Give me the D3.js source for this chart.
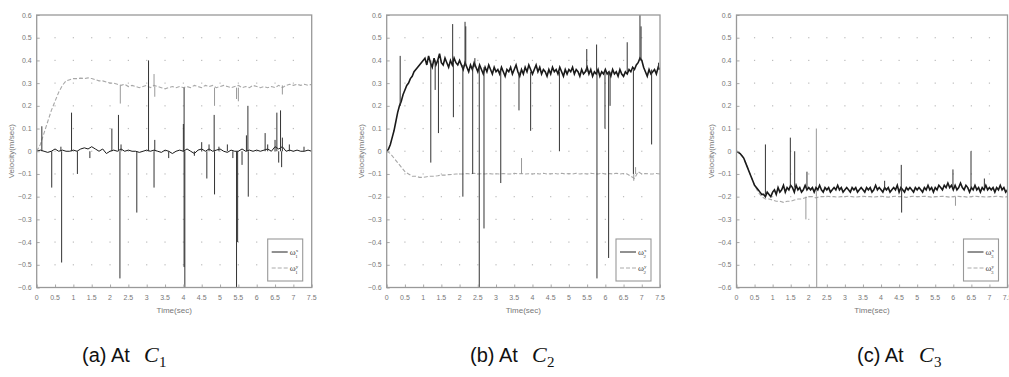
<!DOCTYPE html>
<html>
<head>
<meta charset="utf-8">
<script src="https://cdn.jsdelivr.net/npm/d3@7"></script>
<style>
  html, body { margin: 0; padding: 0; background: #fff; }
  svg { display: block; }
  .tick-label { font-family: "Liberation Sans", Arial, sans-serif; font-size: 7px; fill: #777; }
  .axis-title { font-family: "Liberation Sans", Arial, sans-serif; font-size: 8px; fill: #777; }
  .caption { font-family: "Liberation Sans", Arial, sans-serif; font-size: 20px; fill: #111; }
</style>
</head>
<body>
<div id="chart"></div>
<script>
// sample spacing (seconds) of the recorded traces
const step05 = 0.05;
const step10 = 0.1;

const xTicks = [0, 0.5, 1, 1.5, 2, 2.5, 3, 3.5, 4, 4.5, 5, 5.5, 6, 6.5, 7, 7.5];
const yTicks = [0.6, 0.5, 0.4, 0.3, 0.2, 0.1, 0, -0.1, -0.2, -0.3, -0.4, -0.5, -0.6];
const captionLetters = ['(a) At', '(b) At', '(c) At'];
const captionSubs = ['1', '2', '3'];

// (a) C1 -- black trace sampled every 0.1 s
const aBlack = [0, 0.005, 0, -0.005, 0, 0.01, 0, 0.005, 0, 0, 0.005,
  0, 0.01, 0.015, 0.01, 0.02, 0.01, 0, 0.01, -0.01, 0,
  0.005, 0, 0.01, 0, 0.005, 0, 0, -0.005, 0, 0.005,
  0, 0.005, 0, -0.005, 0.005, 0, -0.01, 0, 0.005, 0,
  0.01, 0, -0.01, 0.005, 0.01, 0, 0.01, 0, 0.005, 0.01,
  0, -0.005, 0.005, 0, 0, 0.01, 0, 0.005, 0, 0.005,
  0, 0.005, 0.01, 0, 0.02, 0.01, 0.02, 0, 0.005, 0,
  0.005, 0, 0, 0.005, 0];
const aGray = [0, 0.03, 0.08, 0.13, 0.18, 0.22, 0.26, 0.29, 0.31, 0.315, 0.32,
  0.32, 0.322, 0.32, 0.323, 0.32, 0.315, 0.31, 0.31, 0.305, 0.3,
  0.3, 0.295, 0.29, 0.295, 0.285, 0.29, 0.285, 0.28, 0.285, 0.29,
  0.28, 0.29, 0.285, 0.28, 0.275, 0.28, 0.285, 0.28, 0.285, 0.28,
  0.285, 0.28, 0.29, 0.285, 0.28, 0.29, 0.285, 0.29, 0.28, 0.285,
  0.29, 0.285, 0.28, 0.285, 0.29, 0.28, 0.285, 0.28, 0.29, 0.285,
  0.28, 0.285, 0.28, 0.285, 0.28, 0.29, 0.28, 0.29, 0.295, 0.29,
  0.295, 0.29, 0.295, 0.29, 0.295];
// spikes: [time, from, to]
const aBlackSpikes = [[0.14, 0, 0.11], [0.41, 0, -0.16], [0.66, 0, 0.02], [0.68, 0, -0.49],
  [0.95, 0, 0.17], [1.11, 0, -0.1], [1.45, 0, -0.03], [2.05, 0, 0.1], [2.23, 0, 0.16],
  [2.27, 0, -0.56], [2.3, 0, 0.03], [2.73, 0, -0.27], [3.05, 0, 0.4], [3.2, 0, -0.16],
  [3.22, 0, 0.05], [3.6, 0, -0.03], [4.0, 0, 0.12], [4.02, 0, 0.28], [4.02, 0, -0.51],
  [4.04, 0, -0.6], [4.3, 0, -0.02], [4.5, 0, 0.04], [4.64, 0, -0.12], [4.7, 0, 0.03],
  [4.84, 0, 0.16], [4.85, 0, -0.19], [4.97, 0, 0.02], [5.2, 0, 0.03], [5.35, 0, -0.03],
  [5.45, 0, -0.6], [5.48, 0, -0.4], [5.6, 0, -0.06], [5.72, 0, 0.07], [5.76, 0, 0.2],
  [5.77, 0, -0.2], [6.23, 0, 0.08], [6.3, 0, 0.03], [6.5, 0, 0.05], [6.55, 0, 0.17],
  [6.6, 0, -0.05], [6.65, 0, 0.18], [6.68, 0, -0.07], [6.7, 0, 0.06], [6.89, 0, 0.03],
  [7.29, 0, 0.02]];
const aGraySpikes = [[2.28, 0.29, 0.21], [3.2, 0.285, 0.34], [3.22, 0.285, 0.24],
  [4.85, 0.28, 0.2], [5.45, 0.28, 0.23], [5.5, 0.28, 0.22], [6.7, 0.29, 0.25]];

// (b) C2 -- black trace sampled every 0.05 s
const bBlack = [0, 0.01, 0.03, 0.06, 0.09, 0.13, 0.17, 0.2, 0.22, 0.25, 0.27,
  0.29, 0.3, 0.32, 0.33, 0.35, 0.36, 0.37, 0.38, 0.39, 0.4,
  0.41, 0.38, 0.42, 0.39, 0.37, 0.41, 0.38, 0.40, 0.43, 0.39,
  0.38, 0.41, 0.39, 0.37, 0.40, 0.38, 0.41, 0.39, 0.38, 0.40,
  0.38, 0.36, 0.39, 0.37, 0.35, 0.38, 0.36, 0.39, 0.37, 0.35,
  0.38, 0.36, 0.34, 0.37, 0.35, 0.38, 0.36, 0.34, 0.37, 0.35,
  0.36, 0.34, 0.37, 0.35, 0.33, 0.36, 0.35, 0.37, 0.34, 0.36,
  0.38, 0.35, 0.33, 0.36, 0.34, 0.37, 0.35, 0.38, 0.36, 0.34,
  0.36, 0.38, 0.35, 0.37, 0.34, 0.36, 0.35, 0.33, 0.36, 0.34,
  0.37, 0.35, 0.36, 0.34, 0.37, 0.35, 0.33, 0.36, 0.34, 0.36,
  0.35, 0.37, 0.34, 0.36, 0.35, 0.33, 0.36, 0.34, 0.35, 0.37,
  0.34, 0.36, 0.33, 0.35, 0.34, 0.36, 0.33, 0.35, 0.34, 0.36,
  0.34, 0.35, 0.33, 0.36, 0.34, 0.35, 0.33, 0.36, 0.34, 0.33,
  0.35, 0.34, 0.36, 0.35, 0.37, 0.36, 0.38, 0.39, 0.41, 0.40,
  0.37, 0.35, 0.33, 0.36, 0.34, 0.35, 0.36, 0.34, 0.37, 0.36];
const bGray = [0, -0.01, -0.03, -0.05, -0.07, -0.09, -0.1, -0.11, -0.11, -0.115, -0.115,
  -0.112, -0.11, -0.11, -0.108, -0.105, -0.105, -0.103, -0.102, -0.1, -0.1,
  -0.1, -0.098, -0.1, -0.097, -0.1, -0.099, -0.1, -0.098, -0.1, -0.099,
  -0.1, -0.098, -0.1, -0.1, -0.097, -0.1, -0.098, -0.1, -0.099, -0.1,
  -0.098, -0.1, -0.097, -0.1, -0.099, -0.098, -0.1, -0.097, -0.1, -0.098,
  -0.1, -0.097, -0.1, -0.098, -0.1, -0.097, -0.099, -0.1, -0.097, -0.1,
  -0.098, -0.1, -0.097, -0.1, -0.098, -0.1, -0.11, -0.12, -0.09, -0.1,
  -0.098, -0.1, -0.1, -0.098, -0.1];
const bBlackSpikes = [[0.37, 0.2, 0.42], [1.21, 0.4, -0.05], [1.33, 0.4, 0.27], [1.42, 0.4, 0.08],
  [1.81, 0.39, 0.56], [1.83, 0.39, 0.15], [2.09, 0.38, -0.2], [2.15, 0.38, 0.57],
  [2.17, 0.38, 0.55], [2.36, 0.37, -0.1], [2.42, 0.37, 0.41], [2.54, 0.37, -0.6],
  [2.67, 0.37, -0.34], [3.13, 0.36, -0.14], [3.63, 0.35, 0.18], [3.95, 0.35, 0.09],
  [4.74, 0.35, 0.0], [5.49, 0.35, 0.45], [5.76, 0.35, 0.47], [5.77, 0.35, -0.56],
  [5.99, 0.35, 0.1], [6.09, 0.35, -0.47], [6.13, 0.35, 0.2], [6.6, 0.35, 0.48],
  [6.77, 0.36, -0.1], [6.95, 0.4, 0.6], [6.98, 0.4, 0.55], [7.27, 0.36, 0.03],
  [7.46, 0.36, 0.39]];
const bGraySpikes = [[3.7, -0.1, -0.03], [6.78, -0.1, -0.13], [6.83, -0.1, -0.07]];

// (c) C3 -- black trace sampled every 0.05 s
const cBlack = [0, -0.005, -0.01, -0.02, -0.03, -0.05, -0.07, -0.09, -0.11, -0.13, -0.15,
  -0.16, -0.17, -0.18, -0.19, -0.19, -0.2, -0.18, -0.19, -0.2, -0.18,
  -0.17, -0.19, -0.16, -0.18, -0.17, -0.15, -0.18, -0.16, -0.17, -0.15,
  -0.16, -0.18, -0.15, -0.17, -0.16, -0.18, -0.17, -0.15, -0.17, -0.16,
  -0.17, -0.16, -0.18, -0.16, -0.17, -0.15, -0.17, -0.18, -0.16, -0.17,
  -0.16, -0.18, -0.17, -0.16, -0.17, -0.15, -0.17, -0.16, -0.18, -0.17,
  -0.16, -0.17, -0.18, -0.16, -0.17, -0.16, -0.18, -0.17, -0.16, -0.17,
  -0.18, -0.16, -0.17, -0.16, -0.18, -0.17, -0.15, -0.17, -0.16, -0.17,
  -0.18, -0.16, -0.17, -0.16, -0.18, -0.17, -0.16, -0.17, -0.15, -0.18,
  -0.16, -0.17, -0.18, -0.16, -0.17, -0.16, -0.17, -0.18, -0.16, -0.17,
  -0.16, -0.17, -0.18, -0.16, -0.17, -0.15, -0.17, -0.16, -0.18, -0.16,
  -0.17, -0.15, -0.16, -0.17, -0.15, -0.16, -0.14, -0.16, -0.15, -0.17,
  -0.15, -0.17, -0.16, -0.14, -0.16, -0.17, -0.15, -0.16, -0.18, -0.16,
  -0.17, -0.15, -0.17, -0.16, -0.18, -0.16, -0.17, -0.15, -0.17, -0.16,
  -0.17, -0.16, -0.18, -0.16, -0.17, -0.15, -0.17, -0.16, -0.18, -0.17];
const cGray = [0, -0.01, -0.03, -0.07, -0.11, -0.15, -0.18, -0.2, -0.21, -0.21, -0.215,
  -0.22, -0.22, -0.225, -0.22, -0.22, -0.215, -0.21, -0.21, -0.205, -0.2,
  -0.2, -0.205, -0.2, -0.2, -0.198, -0.2, -0.2, -0.202, -0.2, -0.2,
  -0.198, -0.2, -0.202, -0.2, -0.198, -0.2, -0.2, -0.202, -0.2, -0.198,
  -0.2, -0.202, -0.2, -0.198, -0.2, -0.2, -0.203, -0.2, -0.198, -0.2,
  -0.2, -0.198, -0.2, -0.202, -0.2, -0.2, -0.198, -0.2, -0.202, -0.2,
  -0.198, -0.2, -0.2, -0.202, -0.2, -0.198, -0.2, -0.2, -0.202, -0.2,
  -0.2, -0.198, -0.2, -0.202, -0.2];
const cBlackSpikes = [[0.8, -0.19, 0.03], [1.49, -0.16, 0.06], [1.61, -0.16, 0.0],
  [1.95, -0.17, -0.09], [4.1, -0.17, -0.13], [4.56, -0.17, -0.06], [4.57, -0.17, -0.27],
  [5.99, -0.16, -0.08], [6.49, -0.16, 0.0], [6.86, -0.16, -0.12]];
const cGraySpikes = [[1.92, -0.2, -0.3], [2.21, -0.2, 0.1], [2.22, -0.2, -0.6], [6.06, -0.2, -0.24]];

const width = 1009;
const height = 377;
const plotTop = 15;
const plotBottom = 287.5;

const panels = [
  { left: 36.7, right: 311.7, black: aBlack, blackStep: step10, gray: aGray, grayStep: step10,
    blackSpikes: aBlackSpikes, graySpikes: aGraySpikes, capX: 82 },
  { left: 386.7, right: 660, black: bBlack, blackStep: step05, gray: bGray, grayStep: step10,
    blackSpikes: bBlackSpikes, graySpikes: bGraySpikes, capX: 470 },
  { left: 736.5, right: 1007.5, black: cBlack, blackStep: step05, gray: cGray, grayStep: step10,
    blackSpikes: cBlackSpikes, graySpikes: cGraySpikes, capX: 857 }
];

const svg = d3.select('#chart').append('svg')
  .attr('width', width)
  .attr('height', height);

const y = d3.scaleLinear().domain([-0.6, 0.6]).range([plotBottom, plotTop]);
const fmt = d3.format('~g');

panels.forEach((p, i) => {
  const x = d3.scaleLinear().domain([0, 7.5]).range([p.left, p.right]);
  const g = svg.append('g');

  // grid dots at each tick intersection
  const dots = [];
  xTicks.forEach(tx => yTicks.forEach(ty => dots.push([tx, ty])));
  g.append('g').selectAll('rect')
    .data(dots.filter(d => d[0] > 0 && d[0] < 7.5 && d[1] > -0.6 && d[1] < 0.6))
    .enter().append('rect')
    .attr('x', d => x(d[0]) - 0.6)
    .attr('y', d => y(d[1]) - 0.6)
    .attr('width', 1.2)
    .attr('height', 1.2)
    .attr('fill', '#bbb');

  const clipId = 'clip' + i;
  g.append('clipPath').attr('id', clipId)
    .append('rect')
    .attr('x', p.left).attr('y', plotTop)
    .attr('width', p.right - p.left).attr('height', plotBottom - plotTop);

  const plot = g.append('g').attr('clip-path', 'url(#' + clipId + ')');

  const lineOf = stepSize => d3.line()
    .x((d, k) => x(k * stepSize))
    .y(d => y(d));

  // gray (dashed) trace
  plot.append('path')
    .attr('d', lineOf(p.grayStep)(p.gray))
    .attr('fill', 'none')
    .attr('stroke', '#a8a8a8')
    .attr('stroke-width', 1.1)
    .attr('stroke-dasharray', '4,2');
  plot.append('g').selectAll('line')
    .data(p.graySpikes)
    .enter().append('line')
    .attr('x1', d => x(d[0])).attr('x2', d => x(d[0]))
    .attr('y1', d => y(d[1])).attr('y2', d => y(d[2]))
    .attr('stroke', '#999')
    .attr('stroke-width', 1);

  // black trace
  plot.append('path')
    .attr('d', lineOf(p.blackStep)(p.black))
    .attr('fill', 'none')
    .attr('stroke', '#1a1a1a')
    .attr('stroke-width', i === 0 ? 1 : 1.6);
  plot.append('g').selectAll('line')
    .data(p.blackSpikes)
    .enter().append('line')
    .attr('x1', d => x(d[0])).attr('x2', d => x(d[0]))
    .attr('y1', d => y(d[1])).attr('y2', d => y(d[2]))
    .attr('stroke', '#333')
    .attr('stroke-width', 1);

  // axes box with inward ticks
  const bottomAxis = d3.axisBottom(x).tickValues(xTicks).tickSize(-3).tickFormat('');
  const leftAxis = d3.axisLeft(y).tickValues(yTicks).tickSize(-3).tickFormat('');
  g.append('g').attr('transform', 'translate(0,' + plotBottom + ')').call(bottomAxis);
  g.append('g').attr('transform', 'translate(' + p.left + ',0)').call(leftAxis);
  g.selectAll('.domain').remove();
  g.selectAll('.tick line').attr('stroke', '#aaa');

  g.append('rect')
    .attr('x', p.left).attr('y', plotTop)
    .attr('width', p.right - p.left).attr('height', plotBottom - plotTop)
    .attr('fill', 'none')
    .attr('stroke', '#999')
    .attr('stroke-width', 1.3);

  // tick labels
  g.append('g').selectAll('text')
    .data(xTicks)
    .enter().append('text')
    .attr('class', 'tick-label')
    .attr('x', d => x(d))
    .attr('y', plotBottom + 12)
    .attr('text-anchor', 'middle')
    .text(d => fmt(d));
  g.append('g').selectAll('text')
    .data(yTicks)
    .enter().append('text')
    .attr('class', 'tick-label')
    .attr('x', p.left - 5)
    .attr('y', d => y(d) + 2.5)
    .attr('text-anchor', 'end')
    .text(d => fmt(d));

  // axis titles
  g.append('text')
    .attr('class', 'axis-title')
    .attr('x', (p.left + p.right) / 2)
    .attr('y', plotBottom + 25)
    .attr('text-anchor', 'middle')
    .text('Time(sec)');
  g.append('text')
    .attr('class', 'axis-title')
    .attr('transform', 'translate(' + (p.left - 23) + ',' + y(0) + ') rotate(-90)')
    .attr('text-anchor', 'middle')
    .text('Velocity(m/sec)');

  // legend
  const lx = p.right - 44;
  const lg = g.append('g');
  lg.append('rect')
    .attr('x', lx).attr('y', 239)
    .attr('width', 35).attr('height', 42)
    .attr('fill', '#fff')
    .attr('stroke', '#999')
    .attr('stroke-width', 1.1);
  const legendRows = [
    { y: 252, stroke: '#222', dash: null, sup: 'x' },
    { y: 268, stroke: '#aaa', dash: '4,2', sup: 'y' }
  ];
  legendRows.forEach(r => {
    lg.append('line')
      .attr('x1', lx + 4).attr('x2', lx + 20)
      .attr('y1', r.y).attr('y2', r.y)
      .attr('stroke', r.stroke)
      .attr('stroke-width', 1)
      .attr('stroke-dasharray', r.dash);
    const t = lg.append('text')
      .attr('x', lx + 22)
      .attr('y', r.y + 3)
      .attr('font-family', 'Liberation Serif, serif')
      .attr('font-size', 9)
      .attr('fill', '#444');
    t.append('tspan').text('ω');
    t.append('tspan').attr('dy', -3.5).attr('font-size', 5).text(r.sup);
    t.append('tspan').attr('dx', -3).attr('dy', 6).attr('font-size', 5).text(captionSubs[i]);
  });

  // caption: "(a) At C1"
  const cap = svg.append('g').attr('class', 'caption');
  cap.append('text').attr('x', p.capX).attr('y', 362).text(captionLetters[i]);
  cap.append('text')
    .attr('x', p.capX + 62).attr('y', 362)
    .attr('font-family', 'Liberation Serif, serif')
    .attr('font-style', 'italic')
    .attr('font-size', 22)
    .text('C');
  cap.append('text')
    .attr('x', p.capX + 77).attr('y', 367)
    .attr('font-family', 'Liberation Serif, serif')
    .attr('font-size', 15)
    .text(captionSubs[i]);
});
</script>
</body>
</html>
